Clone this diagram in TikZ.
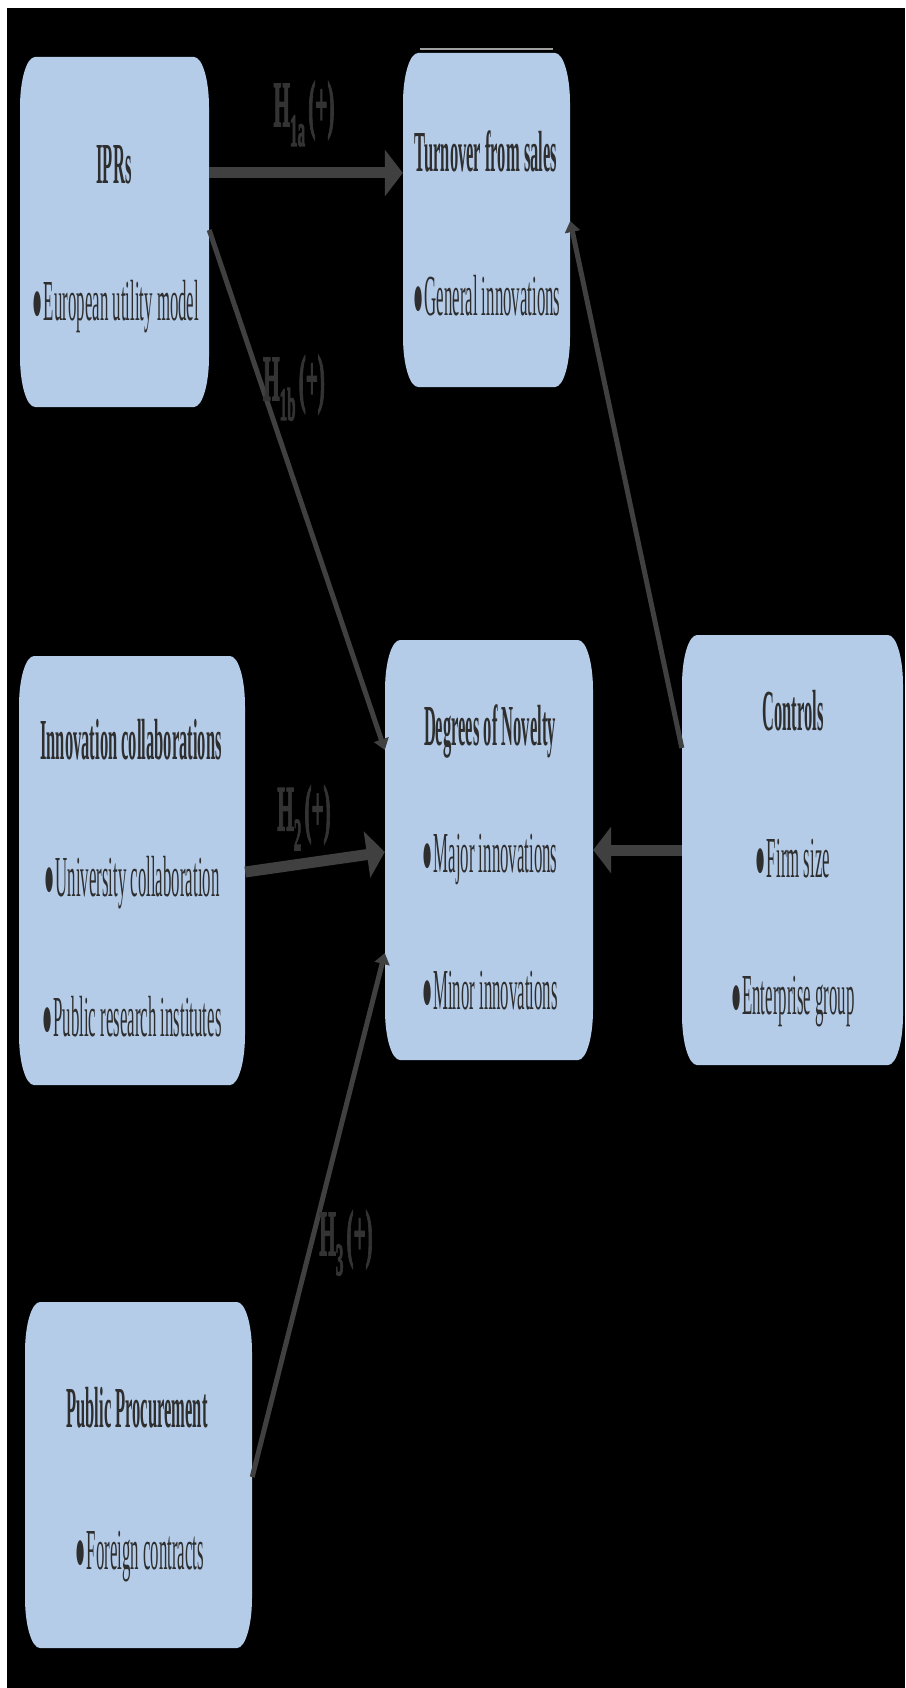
\documentclass[tikz,border=0pt]{standalone}
\usepackage{graphicx}
\usepackage{fontspec}
\setmainfont{Liberation Serif}
\newfontfamily\lblfont[FakeBold=3]{Liberation Serif}
\usetikzlibrary{arrows.meta}
\definecolor{boxblue}{HTML}{B5CCE9}
\definecolor{arrgray}{HTML}{404040}
\definecolor{txtc}{HTML}{2E2E2E}
\definecolor{lblc}{HTML}{333333}
\newcommand{\ttl}[1]{\scalebox{0.285}[1]{\fontsize{58}{60}\selectfont\bfseries #1}}
\newcommand{\itm}[1]{\scalebox{0.29}[1]{\fontsize{58}{60}\selectfont ●\hspace{0.05em}#1}}
\newcommand{\hyp}[1]{\scalebox{0.33}[1]{\lblfont\bfseries\fontsize{64}{66}\selectfont H\raisebox{-20pt}{\fontsize{46}{46}\selectfont #1}\hspace{0.15em}(+)}}
\newcommand{\ebox}[5]{%
  \fill[boxblue] (#2+15,#3) -- (#4-15,#3)
    arc[start angle=-90,end angle=0,x radius=15,y radius=50] -- (#4,#5-50)
    arc[start angle=0,end angle=90,x radius=15,y radius=50] -- (#2+15,#5)
    arc[start angle=90,end angle=180,x radius=15,y radius=50] -- (#2,#3+50)
    arc[start angle=180,end angle=270,x radius=15,y radius=50] -- cycle;
  \node[rectangle,inner sep=0pt,minimum width={#4-#2},minimum height={#5-#3}] (#1) at ({(#2+#4)/2},{(#3+#5)/2}) {};}
\begin{document}
\begin{tikzpicture}[x=1pt,y=-1pt,
  txt/.style={anchor=base,inner sep=0pt,text=txtc},
  lbl/.style={inner sep=0pt,text=lblc},
  thickarrow/.style={draw=arrgray,line width=11pt,-{Triangle[length=18pt,width=46pt]}},
  thinarrow/.style={draw=arrgray,line width=5pt,-{Triangle[length=11pt,width=15pt]}}]
\useasboundingbox (0,0) rectangle (905,1688);
\fill[white] (0,0) rectangle (905,1688);
\fill[black] (7,8) rectangle (905,1688);
% boxes
\ebox{ipr}{20}{57}{209}{407}
\ebox{turn}{403}{53}{570}{387}
\ebox{inno}{19}{656}{245}{1085}
\ebox{deg}{385}{640}{593}{1060}
\ebox{ctrl}{682}{635}{903}{1065}
\ebox{pub}{25}{1302}{252}{1648}
\draw[gray!75,line width=1.5pt] (420,49) -- (553,49);
% texts
\node[txt] (ipr-t) at (114,184) {\ttl{IPRs}};
\node[txt] (ipr-1) at (116,320) {\itm{European utility model}};
\node[txt] (turn-t) at (486,172) {\ttl{Turnover from sales}};
\node[txt] (turn-1) at (487,315) {\itm{General innovations}};
\node[txt] (inno-t) at (131,759) {\ttl{Innovation collaborations}};
\node[txt] (inno-1) at (132,896) {\itm{University collaboration}};
\node[txt] (inno-2) at (132,1036) {\itm{Public research institutes}};
\node[txt] (deg-t) at (490,745) {\ttl{Degrees of Novelty}};
\node[txt] (deg-1) at (490,872) {\itm{Major innovations}};
\node[txt] (deg-2) at (490,1009) {\itm{Minor innovations}};
\node[txt] (ctrl-t) at (793,730) {\ttl{Controls}};
\node[txt] (ctrl-1) at (793,877) {\itm{Firm size}};
\node[txt] (ctrl-2) at (793,1014) {\itm{Enterprise group}};
\node[txt] (pub-t) at (137,1427) {\ttl{Public Procurement}};
\node[txt] (pub-1) at (140,1569) {\itm{Foreign contracts}};
% connectors
\draw[thickarrow] ([yshift=59pt]ipr.east) -- ([yshift=47pt]turn.west);
\draw[thinarrow] ([yshift=2pt]ipr.east) -- ([yshift=100pt]deg.west);
\draw[thickarrow] ([yshift=-1.5pt]inno.east) -- ([yshift=-2pt]deg.west);
\draw[thinarrow] ([yshift=-2pt]pub.east) -- ([yshift=-103pt]deg.west);
\draw[thickarrow] (ctrl.west) -- (deg.east);
\draw[thinarrow] ([yshift=102pt]ctrl.west) -- ([yshift=-1pt]turn.east);
% labels
\node[lbl] (h1a) at (304,114) {\hyp{1a}};
\node[lbl] (h1b) at (294,388) {\hyp{1b}};
\node[lbl] (h2) at (304,818) {\hyp{2}};
\node[lbl] (h3) at (346,1243) {\hyp{3}};
\end{tikzpicture}
\end{document}
